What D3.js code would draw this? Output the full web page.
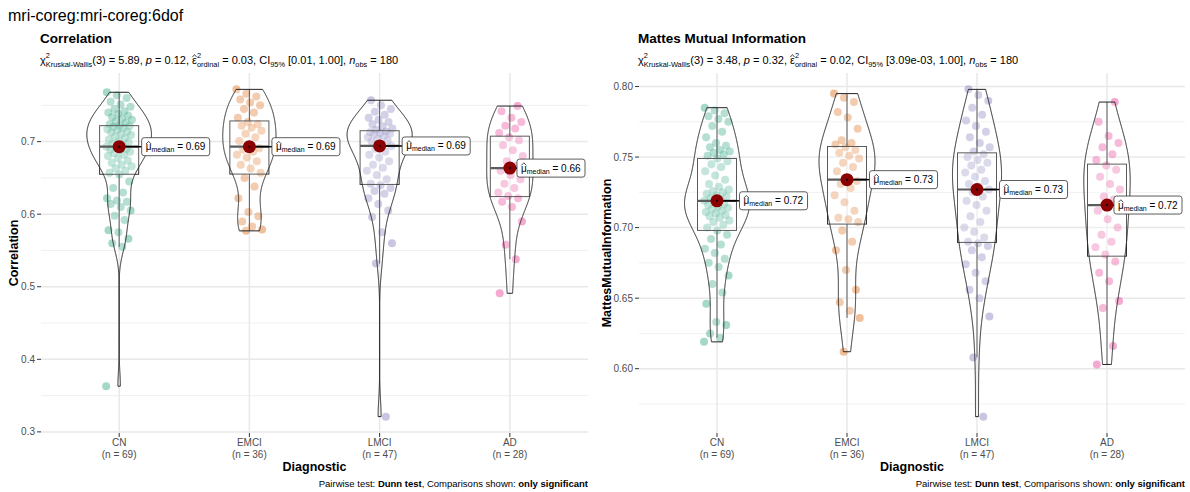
<!DOCTYPE html>
<html>
<head>
<meta charset="utf-8">
<script src="https://cdn.jsdelivr.net/npm/d3@7"></script>
<style>
  body { margin: 0; background: #fff; }
  svg { font-family: "Liberation Sans", Arial, Helvetica, sans-serif; }
  text { white-space: pre; }
</style>
</head>
<body>
<svg id="chart" width="1190" height="492"></svg>
<script>
'use strict'
// ---- data ----
const groups = ["CN", "EMCI", "LMCI", "AD"];
const groupN = [69, 36, 47, 28];
const groupColors = ["#1B9E77", "#D95F02", "#7570B3", "#E7298A"];

const corrCN = [0.363, 0.555, 0.560, 0.566, 0.575, 0.578, 0.592, 0.598, 0.605, 0.610, 0.614, 0.617, 0.619,
  0.622, 0.630, 0.636, 0.645, 0.655, 0.657, 0.660, 0.663, 0.666, 0.668, 0.671, 0.674, 0.677, 0.680, 0.682,
  0.684, 0.686, 0.688, 0.689, 0.690, 0.692, 0.693, 0.695, 0.697, 0.699, 0.701, 0.703, 0.705, 0.707, 0.709,
  0.711, 0.713, 0.714, 0.716, 0.717, 0.719, 0.720, 0.721, 0.722, 0.724, 0.726, 0.728, 0.730, 0.732, 0.734,
  0.736, 0.738, 0.740, 0.742, 0.745, 0.748, 0.751, 0.755, 0.760, 0.764, 0.768];
const corrEMCI = [0.577, 0.579, 0.583, 0.590, 0.597, 0.603, 0.622, 0.638, 0.650, 0.657, 0.663, 0.668, 0.673,
  0.678, 0.682, 0.686, 0.689, 0.691, 0.695, 0.701, 0.706, 0.711, 0.715, 0.719, 0.722, 0.724, 0.727, 0.733,
  0.740, 0.745, 0.750, 0.754, 0.758, 0.762, 0.766, 0.772];
const corrLMCI = [0.321, 0.532, 0.560, 0.575, 0.596, 0.605, 0.614, 0.622, 0.628, 0.632, 0.636, 0.640, 0.642,
  0.648, 0.654, 0.660, 0.664, 0.668, 0.673, 0.678, 0.682, 0.686, 0.690, 0.694, 0.697, 0.700, 0.702, 0.704,
  0.706, 0.708, 0.710, 0.711, 0.712, 0.713, 0.714, 0.716, 0.718, 0.721, 0.724, 0.727, 0.730, 0.733, 0.737,
  0.741, 0.745, 0.750, 0.757];
const corrAD = [0.491, 0.538, 0.558, 0.590, 0.610, 0.617, 0.622, 0.625, 0.630, 0.636, 0.642, 0.648, 0.654,
  0.660, 0.667, 0.673, 0.680, 0.688, 0.695, 0.702, 0.706, 0.712, 0.718, 0.722, 0.727, 0.733, 0.742, 0.749];

const miCN = [0.619, 0.622, 0.625, 0.631, 0.633, 0.646, 0.654, 0.660, 0.666, 0.672, 0.675, 0.678, 0.682,
  0.685, 0.688, 0.692, 0.695, 0.698, 0.700, 0.702, 0.704, 0.705, 0.707, 0.708, 0.709, 0.710, 0.711, 0.712,
  0.713, 0.714, 0.715, 0.716, 0.717, 0.718, 0.719, 0.720, 0.721, 0.722, 0.723, 0.724, 0.725, 0.726, 0.727,
  0.729, 0.731, 0.734, 0.737, 0.740, 0.743, 0.745, 0.747, 0.749, 0.751, 0.752, 0.753, 0.754, 0.755, 0.757,
  0.758, 0.760, 0.764, 0.768, 0.772, 0.775, 0.777, 0.779, 0.781, 0.783, 0.785];
const miEMCI = [0.612, 0.636, 0.641, 0.647, 0.656, 0.670, 0.684, 0.690, 0.698, 0.704, 0.706, 0.707, 0.712,
  0.718, 0.723, 0.728, 0.731, 0.733, 0.735, 0.740, 0.743, 0.746, 0.749, 0.751, 0.753, 0.755, 0.757, 0.759,
  0.760, 0.762, 0.770, 0.778, 0.782, 0.789, 0.792, 0.795];
const miLMCI = [0.566, 0.608, 0.637, 0.650, 0.656, 0.662, 0.668, 0.674, 0.679, 0.684, 0.687, 0.689, 0.690,
  0.693, 0.697, 0.700, 0.704, 0.708, 0.712, 0.716, 0.719, 0.722, 0.725, 0.727, 0.729, 0.731, 0.733, 0.736,
  0.739, 0.741, 0.744, 0.746, 0.748, 0.750, 0.752, 0.754, 0.757, 0.760, 0.764, 0.768, 0.772, 0.776, 0.780,
  0.785, 0.790, 0.794, 0.798];
const miAD = [0.603, 0.616, 0.643, 0.648, 0.662, 0.668, 0.676, 0.681, 0.686, 0.690, 0.695, 0.700, 0.706,
  0.712, 0.720, 0.722, 0.727, 0.731, 0.736, 0.741, 0.744, 0.748, 0.752, 0.757, 0.760, 0.765, 0.775, 0.789];

const corrTicks = [0.3, 0.4, 0.5, 0.6, 0.7];
const miTicks = [0.60, 0.65, 0.70, 0.75, 0.80];

// test results shown in the subtitles
const corrStats = ["5.89", "0.12", "0.03", "[0.01, 1.00]", "180"];
const miStats = ["3.48", "0.32", "0.02", "[3.09e-03, 1.00]", "180"];

const panels = [
  { title: "Correlation", yTitle: "Correlation", data: [corrCN, corrEMCI, corrLMCI, corrAD],
    ticks: corrTicks, fmt: d3.format(".1f"), stats: corrStats, x0: 41, x1: 588, yTitleX: 18 },
  { title: "Mattes Mutual Information", yTitle: "MattesMutualInformation", data: [miCN, miEMCI, miLMCI, miAD],
    ticks: miTicks, fmt: d3.format(".2f"), stats: miStats, x0: 639, x1: 1185, yTitleX: 611 }
];

const plotTop = 73, plotBottom = 433;
const svg = d3.select("#chart");

svg.append("text").attr("x", 8).attr("y", 21).attr("font-size", 16).text("mri-coreg:mri-coreg:6dof");

// draw a line of mixed-size text; returns end x
function richText(g, x, y, runs, base, small) {
  base = base || 11;
  small = small || 7.4;
  let cx = x;
  runs.forEach(r => {
    if (r.stack) {
      const a = g.append("text").attr("x", cx).attr("y", y - 6.5).attr("font-size", small).text(r.stack[0]);
      const b = g.append("text").attr("x", cx).attr("y", y + 2.5).attr("font-size", small).text(r.stack[1]);
      cx += Math.max(a.node().getComputedTextLength(), b.node().getComputedTextLength());
      return;
    }
    const size = r.small ? small : base;
    const t = g.append("text").attr("x", cx).attr("y", y + (r.shift || 0))
      .attr("font-size", size)
      .attr("font-style", r.italic ? "italic" : null)
      .text(r.t);
    const w = t.node().getComputedTextLength();
    if (r.hat) {
      const hy = y - size * 0.62;
      g.append("path").attr("d", `M${cx + 0.3},${hy} L${cx + w / 2},${hy - 2.6} L${cx + w - 0.3},${hy}`)
        .attr("fill", "none").attr("stroke", "#000").attr("stroke-width", 0.7);
    }
    cx += w;
  });
  return cx;
}

function bwNrd0(v) {
  const sd = d3.deviation(v);
  const iqr = d3.quantile(v, 0.75) - d3.quantile(v, 0.25);
  return 0.9 * Math.min(sd, iqr / 1.34) * Math.pow(v.length, -0.2);
}

panels.forEach(p => {
  const g = svg.append("g");
  const all = p.data.flat();
  const ext = d3.extent(all);
  const pad = (ext[1] - ext[0]) * 0.05;
  const y = d3.scaleLinear().domain([ext[0] - pad, ext[1] + pad]).range([plotBottom, plotTop]);
  // ggplot discrete expansion of 0.6 units each side
  const x = d3.scalePoint().domain(groups).range([p.x0, p.x1]).padding(0.6);
  const step = x.step();
  const cx = gr => x(gr);

  // grid
  const tStep = p.ticks[1] - p.ticks[0];
  const minor = d3.range(p.ticks[0] - tStep / 2, p.ticks[p.ticks.length - 1] + tStep, tStep)
    .filter(v => v > y.domain()[0] && v < y.domain()[1]);
  g.selectAll(".minor").data(minor).enter().append("line")
    .attr("x1", p.x0).attr("x2", p.x1).attr("y1", d => y(d)).attr("y2", d => y(d))
    .attr("stroke", "#f0f0f0").attr("stroke-width", 1);
  g.selectAll(".major").data(p.ticks).enter().append("line")
    .attr("x1", p.x0).attr("x2", p.x1).attr("y1", d => y(d)).attr("y2", d => y(d))
    .attr("stroke", "#e8e8e8").attr("stroke-width", 1.5);
  g.selectAll(".vgrid").data(groups).enter().append("line")
    .attr("x1", d => cx(d)).attr("x2", d => cx(d)).attr("y1", plotTop).attr("y2", plotBottom)
    .attr("stroke", "#e8e8e8").attr("stroke-width", 1.5);

  // y axis
  g.selectAll(".ytick").data(p.ticks).enter().append("line")
    .attr("x1", p.x0 - 4).attr("x2", p.x0).attr("y1", d => y(d)).attr("y2", d => y(d))
    .attr("stroke", "#333").attr("stroke-width", 1);
  g.selectAll(".ylab").data(p.ticks).enter().append("text")
    .attr("x", p.x0 - 6).attr("y", d => y(d) + 3.5).attr("text-anchor", "end")
    .attr("font-size", 10).attr("fill", "#4d4d4d").text(d => p.fmt(d));
  g.append("text").attr("transform", `translate(${p.yTitleX},${(plotTop + plotBottom) / 2}) rotate(-90)`)
    .attr("text-anchor", "middle").attr("font-size", 12.5).attr("font-weight", "bold").text(p.yTitle);

  // x axis
  g.selectAll(".xtick").data(groups).enter().append("line")
    .attr("x1", d => cx(d)).attr("x2", d => cx(d)).attr("y1", plotBottom).attr("y2", plotBottom + 4)
    .attr("stroke", "#333").attr("stroke-width", 1);
  groups.forEach((gr, i) => {
    g.append("text").attr("x", cx(gr)).attr("y", plotBottom + 13).attr("text-anchor", "middle")
      .attr("font-size", 10).attr("fill", "#4d4d4d").text(gr);
    g.append("text").attr("x", cx(gr)).attr("y", plotBottom + 25).attr("text-anchor", "middle")
      .attr("font-size", 10).attr("fill", "#4d4d4d").text(`(n = ${groupN[i]})`);
  });
  g.append("text").attr("x", (p.x0 + p.x1) / 2).attr("y", plotBottom + 38).attr("text-anchor", "middle")
    .attr("font-size", 12.5).attr("font-weight", "bold").text("Diagnostic");

  // caption, right aligned
  const cap = g.append("text").attr("x", p.x1).attr("y", 487).attr("text-anchor", "end").attr("font-size", 9.5);
  cap.append("tspan").text("Pairwise test: ");
  cap.append("tspan").attr("font-weight", "bold").text("Dunn test");
  cap.append("tspan").text(", Comparisons shown: ");
  cap.append("tspan").attr("font-weight", "bold").text("only significant");

  // titles
  g.append("text").attr("x", p.x0 - 1).attr("y", 43).attr("font-size", 13.5).attr("font-weight", "bold").text(p.title);
  const s = p.stats;
  richText(g, p.x0 - 1, 64, [
    { t: "\u03c7" }, { stack: ["2", "Kruskal-Wallis"] },
    { t: `(3) = ${s[0]}, ` }, { t: "p", italic: true }, { t: ` = ${s[1]}, ` },
    { t: "\u03b5", hat: true }, { stack: ["2", "ordinal"] },
    { t: ` = ${s[2]}, CI` }, { t: "95%", small: true, shift: 2.5 },
    { t: ` ${s[3]}, ` }, { t: "n", italic: true }, { t: "obs", small: true, shift: 2.5 },
    { t: ` = ${s[4]}` }
  ]);

  // violin densities (gaussian kernel, bw.nrd0, trimmed to data range)
  const maxDens = [];
  const dens = p.data.map(v => {
    const bw = bwNrd0(v);
    const [lo, hi] = d3.extent(v);
    const pts = d3.range(512).map(i => {
      const yy = lo + (hi - lo) * i / 511;
      const dd = d3.mean(v, d => Math.exp(-0.5 * ((yy - d) / bw) ** 2)) / (bw * Math.sqrt(2 * Math.PI));
      return [yy, dd];
    });
    maxDens.push(d3.max(pts, q => q[1]));
    return pts;
  });
  const dMax = d3.max(maxDens);

  // jittered points
  p.data.forEach((v, gi) => {
    const gr = groups[gi];
    g.append("g").selectAll("circle").data(v).enter().append("circle")
      .attr("cx", (d, i) => cx(gr) + (((i * 0.618034 + gi * 0.37) % 1) - 0.5) * 26)
      .attr("cy", d => y(d)).attr("r", 4)
      .attr("fill", groupColors[gi]).attr("fill-opacity", 0.4);
  });

  // boxes
  p.data.forEach((v, gi) => {
    const gr = groups[gi];
    const c = cx(gr), hw = step * 0.15;
    const q1 = d3.quantile(v, 0.25), q3 = d3.quantile(v, 0.75), md = d3.median(v);
    const iqr = q3 - q1;
    const lo = d3.min(v.filter(d => d >= q1 - 1.5 * iqr));
    const hi = d3.max(v.filter(d => d <= q3 + 1.5 * iqr));
    g.append("line").attr("x1", c).attr("x2", c).attr("y1", y(hi)).attr("y2", y(q3))
      .attr("stroke", "#333").attr("stroke-width", 1);
    g.append("line").attr("x1", c).attr("x2", c).attr("y1", y(q1)).attr("y2", y(lo))
      .attr("stroke", "#333").attr("stroke-width", 1);
    g.append("rect").attr("x", c - hw).attr("y", y(q3)).attr("width", 2 * hw).attr("height", y(q1) - y(q3))
      .attr("fill", "#fff").attr("fill-opacity", 0.2).attr("stroke", "#333").attr("stroke-width", 1);
    g.append("line").attr("x1", c - hw).attr("x2", c + hw).attr("y1", y(md)).attr("y2", y(md))
      .attr("stroke", "#333").attr("stroke-width", 2.2);
  });

  // violins
  dens.forEach((pts, gi) => {
    const c = cx(groups[gi]);
    const w = d => (d[1] / dMax) * step * 0.25;
    const area = d3.area().x0(d => c - w(d)).x1(d => c + w(d)).y(d => y(d[0]));
    g.append("path").attr("d", area(pts)).attr("fill", "#fff").attr("fill-opacity", 0.2)
      .attr("stroke", "#222").attr("stroke-width", 1);
  });

  // medians with labels (kept inside the panel, like ggrepel)
  p.data.forEach((v, gi) => {
    const c = cx(groups[gi]);
    const md = d3.median(v);
    const ym = y(md);
    const lg = g.append("g");
    const rect = lg.append("rect");
    const tg = lg.append("g");
    richText(tg, 4, 3.5, [
      { t: "\u03bc", hat: true }, { t: "median", small: true, shift: 2 }, { t: ` = ${md.toFixed(2)}` }
    ], 10, 7);
    const lw = tg.node().getBBox().width + 8;
    let lx = c + step * 0.15 + 3;
    if (lx + lw > p.x1 - 3) lx = p.x1 - 3 - lw;
    rect.attr("x", 0).attr("y", -9).attr("width", lw).attr("height", 18).attr("rx", 2.5)
      .attr("fill", "#fff").attr("stroke", "#333").attr("stroke-width", 0.8);
    lg.attr("transform", `translate(${lx},${ym})`);
    g.insert("line", () => lg.node()).attr("x1", c).attr("x2", lx).attr("y1", ym).attr("y2", ym)
      .attr("stroke", "#000").attr("stroke-width", 1.5);
    g.insert("circle", () => lg.node()).attr("cx", c).attr("cy", ym).attr("r", 6.5).attr("fill", "#8B0000");
    g.insert("circle", () => lg.node()).attr("cx", c).attr("cy", ym).attr("r", 1).attr("fill", "#000");
  });
});
</script>
</body>
</html>
